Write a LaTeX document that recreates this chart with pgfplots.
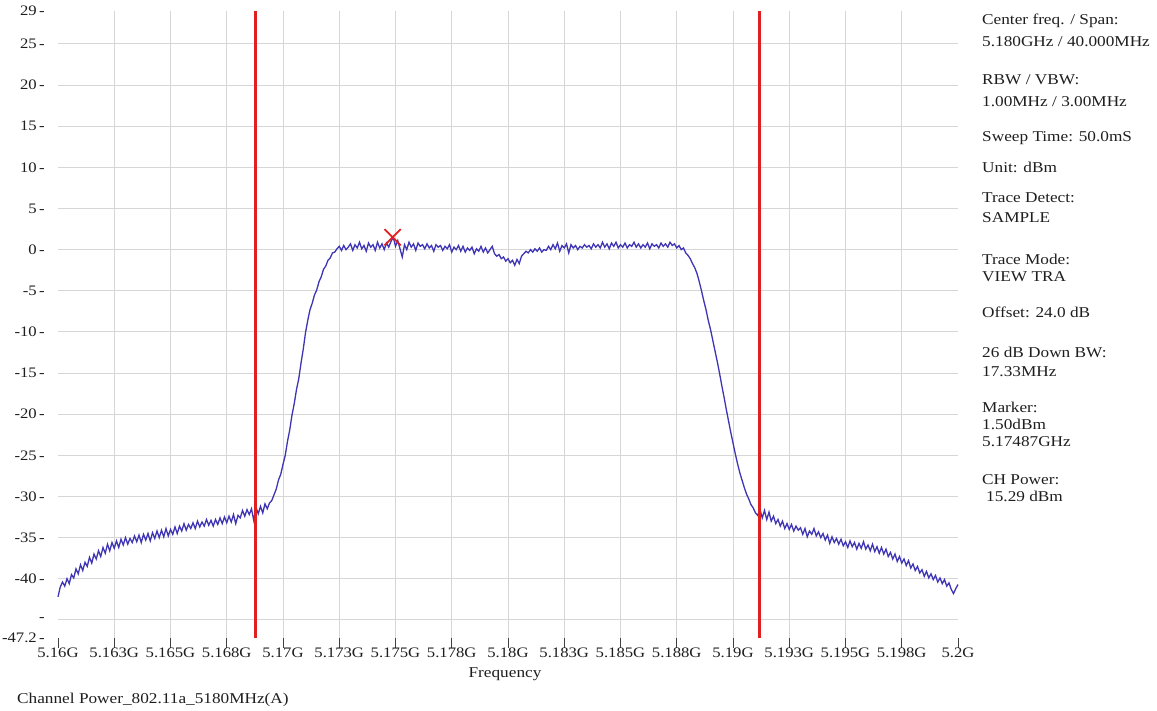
\documentclass[border=0pt]{standalone}
\usepackage{pgfplots}
\pgfplotsset{compat=1.18}
\usepackage{pgfplotstable}
\usepackage{fontspec}
\setmainfont{Liberation Serif}[FakeStretch=1.15]
\definecolor{trace}{RGB}{62,52,180}
\definecolor{redline}{RGB}{224,32,32}
\definecolor{gridc}{RGB}{214,214,214}
\definecolor{txt}{RGB}{30,30,30}
\pgfplotstableread[row sep=\\]{
x y\\
0.0 -42.2\\ 0.1 -41.0\\ 0.2 -40.4\\ 0.3 -40.9\\ 0.4 -40.0\\ 0.5 -40.6\\ 0.6 -39.5\\ 0.7 -39.9\\ 0.8 -38.8\\ 0.9 -39.4\\
1.0 -38.3\\ 1.1 -39.0\\ 1.2 -38.0\\ 1.3 -38.5\\ 1.4 -37.4\\ 1.5 -38.1\\ 1.6 -37.0\\ 1.7 -37.6\\ 1.8 -36.6\\ 1.9 -37.3\\
2.0 -36.2\\ 2.1 -36.9\\ 2.2 -35.8\\ 2.3 -36.6\\ 2.4 -35.6\\ 2.5 -36.3\\ 2.6 -35.4\\ 2.7 -36.2\\ 2.8 -35.2\\ 2.9 -35.9\\
3.0 -35.0\\ 3.1 -35.8\\ 3.2 -35.1\\ 3.3 -35.6\\ 3.4 -34.8\\ 3.5 -35.5\\ 3.6 -34.7\\ 3.7 -35.6\\ 3.8 -34.6\\ 3.9 -35.3\\
4.0 -34.5\\ 4.1 -35.4\\ 4.2 -34.4\\ 4.3 -35.1\\ 4.4 -34.2\\ 4.5 -35.0\\ 4.6 -34.1\\ 4.7 -34.9\\ 4.8 -33.9\\ 4.9 -34.8\\
5.0 -34.0\\ 5.1 -34.6\\ 5.2 -33.7\\ 5.3 -34.5\\ 5.4 -33.6\\ 5.5 -34.2\\ 5.6 -33.3\\ 5.7 -34.1\\ 5.8 -33.4\\ 5.9 -33.9\\
6.0 -33.2\\ 6.1 -33.9\\ 6.2 -33.0\\ 6.3 -33.7\\ 6.4 -33.1\\ 6.5 -33.6\\ 6.6 -32.8\\ 6.7 -33.5\\ 6.8 -32.9\\ 6.9 -33.6\\
7.0 -32.8\\ 7.1 -33.4\\ 7.2 -32.6\\ 7.3 -33.3\\ 7.4 -32.5\\ 7.5 -33.2\\ 7.6 -32.4\\ 7.7 -33.1\\ 7.8 -32.2\\ 7.9 -33.3\\
8.0 -32.3\\ 8.1 -32.6\\ 8.2 -31.7\\ 8.3 -32.4\\ 8.4 -31.6\\ 8.5 -32.2\\ 8.6 -31.5\\ 8.7 -32.9\\ 8.8 -31.3\\ 8.9 -32.1\\
9.0 -31.2\\ 9.1 -32.0\\ 9.2 -30.9\\ 9.3 -31.5\\ 9.4 -30.8\\ 9.5 -30.5\\ 9.6 -29.8\\ 9.7 -29.1\\ 9.8 -28.0\\ 9.9 -27.3\\
10.0 -26.1\\ 10.1 -25.0\\ 10.2 -23.3\\ 10.3 -21.9\\ 10.4 -20.1\\ 10.5 -18.7\\ 10.6 -17.0\\ 10.7 -15.7\\ 10.8 -13.8\\ 10.9 -12.1\\
11.0 -10.1\\ 11.1 -8.6\\ 11.2 -7.3\\ 11.3 -6.5\\ 11.4 -5.5\\ 11.5 -4.9\\ 11.6 -3.9\\ 11.7 -3.3\\ 11.8 -2.4\\ 11.9 -2.0\\
12.0 -1.3\\ 12.1 -1.0\\ 12.2 -0.4\\ 12.3 -0.3\\ 12.4 0.1\\ 12.5 0.4\\ 12.6 -0.1\\ 12.7 0.5\\ 12.8 0.0\\ 12.9 0.3\\
13.0 0.7\\ 13.1 -0.1\\ 13.2 0.6\\ 13.3 0.2\\ 13.4 0.9\\ 13.5 0.1\\ 13.6 0.5\\ 13.7 -0.2\\ 13.8 0.8\\ 13.9 0.3\\
14.0 0.6\\ 14.1 -0.1\\ 14.2 0.9\\ 14.3 0.2\\ 14.4 0.7\\ 14.5 0.0\\ 14.6 0.8\\ 14.7 0.3\\ 14.8 1.0\\ 14.9 1.5\\
15.0 0.4\\ 15.1 1.1\\ 15.2 0.1\\ 15.3 -0.9\\ 15.4 0.6\\ 15.5 0.0\\ 15.6 0.9\\ 15.7 0.3\\ 15.8 0.7\\ 15.9 -0.1\\
16.0 0.8\\ 16.1 0.4\\ 16.2 0.6\\ 16.3 0.1\\ 16.4 0.7\\ 16.5 0.2\\ 16.6 0.5\\ 16.7 -0.2\\ 16.8 0.6\\ 16.9 0.3\\
17.0 0.5\\ 17.1 -0.1\\ 17.2 0.4\\ 17.3 0.1\\ 17.4 0.6\\ 17.5 -0.3\\ 17.6 0.3\\ 17.7 0.0\\ 17.8 0.5\\ 17.9 -0.2\\
18.0 0.4\\ 18.1 -0.3\\ 18.2 0.2\\ 18.3 -0.1\\ 18.4 0.3\\ 18.5 -0.5\\ 18.6 0.1\\ 18.7 -0.2\\ 18.8 0.4\\ 18.9 -0.3\\
19.0 0.2\\ 19.1 -0.4\\ 19.2 0.0\\ 19.3 0.4\\ 19.4 -0.5\\ 19.5 -0.8\\ 19.6 -0.6\\ 19.7 -1.1\\ 19.8 -0.9\\ 19.9 -1.4\\
20.0 -1.1\\ 20.1 -1.6\\ 20.2 -1.3\\ 20.3 -1.9\\ 20.4 -1.2\\ 20.5 -1.7\\ 20.6 -0.8\\ 20.7 -0.5\\ 20.8 -0.2\\ 20.9 -0.4\\
21.0 0.0\\ 21.1 -0.3\\ 21.2 0.1\\ 21.3 -0.2\\ 21.4 0.2\\ 21.5 -0.3\\ 21.6 0.0\\ 21.7 -0.1\\ 21.8 0.4\\ 21.9 0.0\\
22.0 0.6\\ 22.1 0.1\\ 22.2 0.8\\ 22.3 -0.2\\ 22.4 0.5\\ 22.5 0.2\\ 22.6 0.7\\ 22.7 -0.4\\ 22.8 0.6\\ 22.9 0.2\\
23.0 0.5\\ 23.1 0.0\\ 23.2 0.4\\ 23.3 0.2\\ 23.4 0.6\\ 23.5 0.3\\ 23.6 0.5\\ 23.7 0.1\\ 23.8 0.7\\ 23.9 0.3\\
24.0 0.6\\ 24.1 0.2\\ 24.2 0.9\\ 24.3 0.3\\ 24.4 0.7\\ 24.5 0.1\\ 24.6 0.8\\ 24.7 0.4\\ 24.8 0.9\\ 24.9 0.2\\
25.0 0.6\\ 25.1 0.3\\ 25.2 0.8\\ 25.3 0.2\\ 25.4 0.6\\ 25.5 0.4\\ 25.6 0.9\\ 25.7 0.3\\ 25.8 0.7\\ 25.9 0.2\\
26.0 0.6\\ 26.1 0.3\\ 26.2 0.8\\ 26.3 0.1\\ 26.4 0.7\\ 26.5 0.4\\ 26.6 0.6\\ 26.7 0.2\\ 26.8 0.8\\ 26.9 0.4\\
27.0 0.7\\ 27.1 0.3\\ 27.2 0.9\\ 27.3 0.5\\ 27.4 0.7\\ 27.5 0.2\\ 27.6 0.5\\ 27.7 0.0\\ 27.8 0.2\\ 27.9 -0.4\\
28.0 -0.7\\ 28.1 -1.1\\ 28.2 -1.7\\ 28.3 -2.2\\ 28.4 -2.9\\ 28.5 -3.9\\ 28.6 -5.0\\ 28.7 -6.2\\ 28.8 -7.3\\ 28.9 -8.6\\
29.0 -9.7\\ 29.1 -11.0\\ 29.2 -12.3\\ 29.3 -13.6\\ 29.4 -15.0\\ 29.5 -16.5\\ 29.6 -17.9\\ 29.7 -19.4\\ 29.8 -20.8\\ 29.9 -22.2\\
30.0 -23.5\\ 30.1 -24.8\\ 30.2 -26.0\\ 30.3 -27.1\\ 30.4 -28.0\\ 30.5 -28.9\\ 30.6 -29.7\\ 30.7 -30.3\\ 30.8 -31.0\\ 30.9 -31.4\\
31.0 -32.0\\ 31.1 -32.3\\ 31.2 -31.6\\ 31.3 -32.6\\ 31.4 -31.7\\ 31.5 -32.8\\ 31.6 -31.9\\ 31.7 -33.0\\ 31.8 -32.4\\ 31.9 -33.3\\
32.0 -32.8\\ 32.1 -33.6\\ 32.2 -33.0\\ 32.3 -33.9\\ 32.4 -33.3\\ 32.5 -34.0\\ 32.6 -33.4\\ 32.7 -34.2\\ 32.8 -33.6\\ 32.9 -34.1\\
33.0 -33.8\\ 33.1 -34.6\\ 33.2 -33.9\\ 33.3 -34.9\\ 33.4 -34.2\\ 33.5 -34.6\\ 33.6 -33.9\\ 33.7 -34.8\\ 33.8 -34.3\\ 33.9 -35.0\\
34.0 -34.5\\ 34.1 -35.3\\ 34.2 -34.7\\ 34.3 -35.7\\ 34.4 -34.9\\ 34.5 -35.6\\ 34.6 -35.1\\ 34.7 -35.8\\ 34.8 -35.2\\ 34.9 -36.0\\
35.0 -35.5\\ 35.1 -36.2\\ 35.2 -35.4\\ 35.3 -36.1\\ 35.4 -35.6\\ 35.5 -36.4\\ 35.6 -35.7\\ 35.7 -36.3\\ 35.8 -35.5\\ 35.9 -36.4\\
36.0 -35.9\\ 36.1 -36.6\\ 36.2 -35.8\\ 36.3 -36.7\\ 36.4 -36.1\\ 36.5 -36.9\\ 36.6 -36.2\\ 36.7 -37.0\\ 36.8 -36.4\\ 36.9 -37.3\\
37.0 -36.8\\ 37.1 -37.6\\ 37.2 -37.0\\ 37.3 -37.9\\ 37.4 -37.3\\ 37.5 -38.1\\ 37.6 -37.6\\ 37.7 -38.4\\ 37.8 -37.8\\ 37.9 -38.7\\
38.0 -38.2\\ 38.1 -39.0\\ 38.2 -38.5\\ 38.3 -39.3\\ 38.4 -38.9\\ 38.5 -39.7\\ 38.6 -39.1\\ 38.7 -39.9\\ 38.8 -39.4\\ 38.9 -40.1\\
39.0 -39.6\\ 39.1 -40.4\\ 39.2 -39.9\\ 39.3 -40.6\\ 39.4 -40.1\\ 39.5 -40.9\\ 39.6 -40.5\\ 39.7 -41.3\\ 39.8 -41.8\\ 39.9 -41.2\\
40.0 -40.7\\
}\trace
\begin{document}
\begin{tikzpicture}
\path[use as bounding box] (0,0) rectangle (1157pt,711pt);
\begin{axis}[
  at={(58pt,73pt)}, anchor=south west,
  scale only axis, width=900pt, height=627pt,
  xmin=0, xmax=40, ymin=-47.2, ymax=29,
  axis line style={draw=none},
  grid=major,
  major grid style={draw=gridc, line width=1pt},
  tick pos=left,
  xtick={2.5,5,7.5,10,12.5,15,17.5,20,22.5,25,27.5,30,32.5,35,37.5},
  xticklabels={5.163G,5.165G,5.168G,5.17G,5.173G,5.175G,5.178G,5.18G,5.183G,5.185G,5.188G,5.19G,5.193G,5.195G,5.198G},
  extra x ticks={0,40},
  extra x tick labels={5.16G,5.2G},
  ytick={-45,-40,-35,-30,-25,-20,-15,-10,-5,0,5,10,15,20,25},
  yticklabels={-,-40\,-,-35\,-,-30\,-,-25\,-,-20\,-,-15\,-,-10\,-,-5\,-,0\,-,5\,-,10\,-,15\,-,20\,-,25\,-},
  extra y ticks={-47.2,29},
  extra y tick labels={-47.2\,-,29\,-},
  tick align=outside,
  major tick length=10pt,
  xtick style={draw=black!75, line width=0.7pt},
  ytick style={draw=none},
  extra x tick style={grid=none, tick style={draw=black!75, line width=0.7pt}},
  extra y tick style={grid=none, tick style={draw=none}},
  ticklabel style={font=\fontsize{14.5}{16}\selectfont, text=txt},
  xticklabel style={anchor=north, inner sep=0pt},
  yticklabel style={anchor=east, inner sep=0pt, xshift=-3pt},
  clip=false,
]
\addplot[trace, line width=1.3pt] table[x=x,y=y] {\trace};
\addplot[redline, line width=2.6pt] coordinates {(8.78,-47.2) (8.78,29)};
\addplot[redline, line width=2.6pt] coordinates {(31.18,-47.2) (31.18,29)};
\addplot[only marks, mark=x, mark size=11.5pt, mark options={line width=1.7pt, draw=redline}] coordinates {(14.87,1.5)};
\end{axis}
\begin{scope}[every node/.style={anchor=base west, inner sep=0pt, text=txt, font=\fontsize{15}{17}\selectfont}]
\node at (982pt,686pt) {Center freq. / Span:};
\node at (982pt,664pt) {5.180GHz / 40.000MHz};
\node at (982pt,626pt) {RBW / VBW:};
\node at (982pt,604pt) {1.00MHz / 3.00MHz};
\node at (982pt,569pt) {Sweep Time: 50.0mS};
\node at (982pt,538pt) {Unit: dBm};
\node at (982pt,508pt) {Trace Detect:};
\node at (982pt,488pt) {SAMPLE};
\node at (982pt,446pt) {Trace Mode:};
\node at (982pt,429pt) {VIEW TRA};
\node at (982pt,393pt) {Offset: 24.0 dB};
\node at (982pt,353pt) {26 dB Down BW:};
\node at (982pt,334pt) {17.33MHz};
\node at (982pt,298pt) {Marker:};
\node at (982pt,281pt) {1.50dBm};
\node at (982pt,264pt) {5.17487GHz};
\node at (982pt,226pt) {CH Power:};
\node at (986pt,209pt) {15.29 dBm};
\node at (17pt,7pt) {Channel Power\_802.11a\_5180MHz(A)};
\node[anchor=base] at (505pt,33pt) {Frequency};
\end{scope}
\end{tikzpicture}
\end{document}
